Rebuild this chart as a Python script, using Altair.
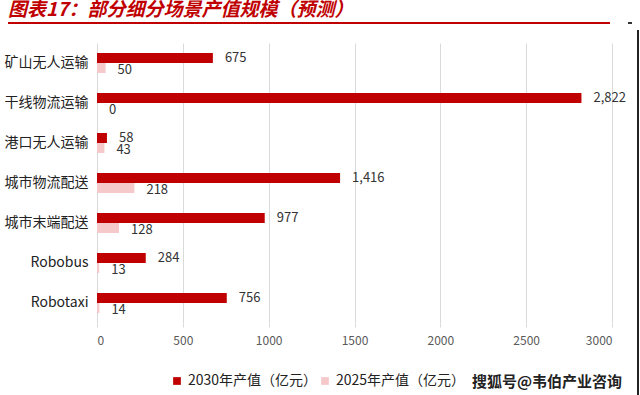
import altair as alt
import pandas as pd

categories = ["矿山无人运输", "干线物流运输", "港口无人运输", "城市物流配送", "城市末端配送", "Robobus", "Robotaxi"]
values_2030 = [675, 2822, 58, 1416, 977, 284, 756]
values_2025 = [50, 0, 43, 218, 128, 13, 14]
series_names = ["2030年产值（亿元）", "2025年产值（亿元）"]
x_ticks = [0, 500, 1000, 1500, 2000, 2500, 3000]
title_text = "图表17：部分细分场景产值规模（预测）"
watermark = "搜狐号@韦伯产业咨询"

rows = []
for c, v in zip(categories, values_2030):
    rows.append({"cat": c, "series": series_names[0], "value": v})
for c, v in zip(categories, values_2025):
    rows.append({"cat": c, "series": series_names[1], "value": v})
df = pd.DataFrame(rows)

FONT = "Noto Sans CJK SC"
DARK = "#C00000"
LIGHT = "#F5C9C9"

y_enc = alt.Y("cat:N", sort=categories, title=None,
              scale=alt.Scale(paddingInner=0.5, paddingOuter=0.25),
              axis=alt.Axis(domain=False, ticks=False, labelFontSize=14, labelColor="#222",
                            labelFont=FONT, labelPadding=9))
yoff = alt.YOffset("series:N", sort=series_names)
x_enc = alt.X("value:Q", title=None,
              scale=alt.Scale(domain=[0, 3000], nice=False),
              axis=alt.Axis(values=x_ticks, domain=False, grid=True, gridColor="#dadada",
                            tickColor="#dadada", tickSize=4, labelPadding=8, labelFontSize=12,
                            labelColor="#595959", labelFont=FONT, format="d"))

bars = alt.Chart(df).mark_bar().encode(
    y=y_enc, yOffset=yoff, x=x_enc,
    color=alt.Color("series:N", sort=series_names,
                    scale=alt.Scale(domain=series_names, range=[DARK, LIGHT]),
                    legend=alt.Legend(title=None, orient="none", legendX=73, legendY=331,
                                      direction="horizontal", symbolType="square", symbolSize=60,
                                      labelFontSize=14, labelFont=FONT, labelColor="#222",
                                      labelOffset=4, columnPadding=0, symbolStrokeWidth=0))
)

labels_dark = alt.Chart(df).transform_filter(alt.datum.series == series_names[0]).mark_text(
    align="left", baseline="middle", dx=12, fontSize=13, font=FONT, color="#333"
).encode(y=alt.Y("cat:N", sort=categories), yOffset=yoff, x="value:Q",
         text=alt.Text("value:Q", format=","))

labels_light = alt.Chart(df).transform_filter(alt.datum.series == series_names[1]).mark_text(
    align="left", baseline="middle", dx=12, dy=2, fontSize=13, font=FONT, color="#333"
).encode(y=alt.Y("cat:N", sort=categories), yOffset=yoff, x="value:Q",
         text=alt.Text("value:Q", format=","))

title = alt.Chart(pd.DataFrame({"t": [title_text]})).mark_text(
    align="left", baseline="middle", fontSize=19, fontWeight="bold", fontStyle="italic",
    font=FONT, color=DARK
).encode(x=alt.value(-89), y=alt.value(-33), text="t:N")

underline = alt.Chart(pd.DataFrame({"a": [0]})).mark_rule(color=DARK, strokeWidth=2).encode(
    x=alt.value(-89), x2=alt.value(513), y=alt.value(-20))
dash = alt.Chart(pd.DataFrame({"a": [0]})).mark_rule(color="#333", strokeWidth=2).encode(
    x=alt.value(531), x2=alt.value(535), y=alt.value(-20))
frame = alt.Chart(pd.DataFrame({"a": [0]})).mark_rule(color="#222", strokeWidth=2).encode(
    x=alt.value(541), y=alt.value(-13), y2=alt.value(360))

wm = alt.Chart(pd.DataFrame({"t": [watermark]})).mark_text(
    align="left", baseline="middle", fontSize=15, font=FONT, color="#222", fontWeight="bold"
).encode(x=alt.value(375), y=alt.value(339), text="t:N")

chart = alt.layer(bars, labels_dark, labels_light, title, underline, dash, frame, wm).properties(
    width=515, height=280,
    autosize=alt.AutoSizeParams(type="none"),
    padding={"left": 97, "top": 43, "right": 28, "bottom": 72},
    background="white"
).configure_view(stroke=None)

chart.save("out.html", embed_options={"renderer": "svg", "actions": False})
